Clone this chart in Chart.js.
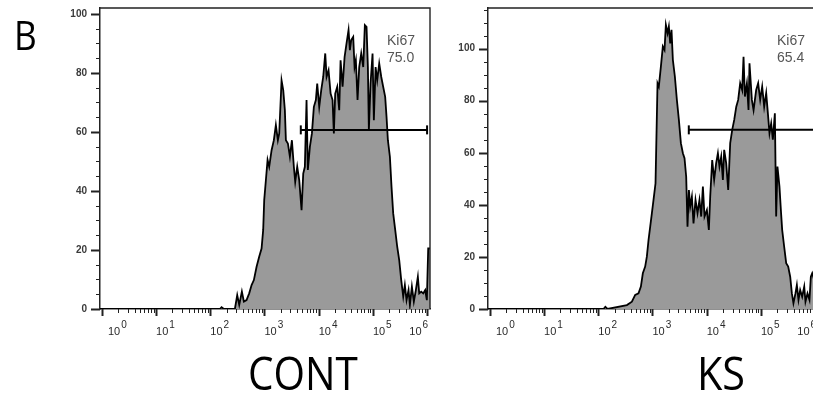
<!DOCTYPE html>
<html><head><meta charset="utf-8">
<script src="https://cdn.jsdelivr.net/npm/chart.js@4.4.0/dist/chart.umd.min.js"></script>
<style>
html,body{margin:0;padding:0;background:#fff;width:813px;height:396px;overflow:hidden;position:relative;}
.c{position:absolute;top:0;}
.big{position:absolute;font-family:'Open Sans',sans-serif;color:#000;white-space:nowrap;line-height:1;transform-origin:0 0;}
.gate{position:absolute;font-family:'Liberation Sans',Arial,sans-serif;font-size:14px;color:#555;line-height:16.7px;white-space:nowrap;}
</style></head><body>
<div class="c" style="left:0;"><canvas id="c1" width="440" height="345"></canvas></div>
<div class="c" style="left:388px;"><canvas id="c2" width="440" height="345"></canvas></div>
<div class="big" style="left:14px;top:15px;font-size:40px;transform:scaleX(0.88);">B</div>
<div class="big" id="t1" style="left:248px;top:349px;font-size:46px;transform:scaleX(0.88);">CONT</div>
<div class="big" id="t2" style="left:697px;top:349px;font-size:46px;transform:scaleX(0.9);">KS</div>
<div class="gate" style="left:387px;top:32px;">Ki67<br>75.0</div>
<div class="gate" style="left:777px;top:32px;">Ki67<br>65.4</div>
<script>
// ---- data (x positions as log10 exponents, y as event counts) ----
const contExp = [-0.035,2.177,2.208,2.25,2.454,2.497,2.534,2.583,2.62,2.669,2.718,2.762,2.804,2.854,2.902,2.946,2.976,2.995,3.026,3.057,3.087,3.131,3.173,3.21,3.247,3.272,3.315,3.346,3.376,3.395,3.432,3.469,3.506,3.542,3.567,3.604,3.641,3.684,3.715,3.745,3.776,3.80,3.838,3.875,3.911,3.948,3.973,4.01,4.047,4.084,4.121,4.146,4.182,4.22,4.256,4.28,4.305,4.342,4.379,4.404,4.441,4.478,4.514,4.551,4.576,4.6,4.637,4.662,4.686,4.717,4.748,4.785,4.822,4.852,4.883,4.908,4.926,4.957,4.994,5.018,5.05,5.08,5.117,5.154,5.19,5.227,5.252,5.277,5.314,5.344,5.375,5.412,5.449,5.486,5.523,5.56,5.59,5.621,5.658,5.683,5.72,5.756,5.793,5.83,5.855,5.892,5.929,5.965,5.996,6.021,6.054];
const contCount = [0,0,0.6,0,0,4.7,1.4,5.9,2.5,3,5.3,8.1,9.8,14.3,17.7,20.5,26.8,36.9,43.7,50.5,48.2,53.8,57.2,62.3,57.2,59.5,77.5,74.2,67.4,57.2,56.1,51.6,57.2,48.2,43.1,48.2,43.7,33.5,45.9,48.2,70.8,47.1,55,59.5,68.5,70.8,76.4,68.5,74.2,78.7,86.6,78.7,80.9,73,70.8,59.5,73,75.3,67.4,84.3,75.3,85.4,90,94.5,87.7,91.1,92.2,82,84.3,70.8,82,86.6,82,96.2,95.6,82,60.6,76.4,86.6,64,82,77.5,83.2,78.7,75.3,71.9,65.1,57.2,51.6,41.4,32.4,26.8,21.1,16.6,9.8,4.2,8.1,3,6.4,1.4,7.6,2.5,6.4,10.9,5.3,5.9,5.3,6.4,3,20.5,20.5];
const ksExp = [-0.035,2.096,2.13,2.17,2.528,2.62,2.681,2.742,2.786,2.822,2.865,2.896,2.927,2.958,2.989,3.019,3.056,3.093,3.117,3.155,3.191,3.222,3.247,3.278,3.302,3.327,3.351,3.376,3.413,3.45,3.487,3.524,3.561,3.591,3.622,3.646,3.672,3.696,3.727,3.757,3.794,3.831,3.867,3.899,3.93,3.96,4.004,4.04,4.065,4.102,4.138,4.175,4.207,4.236,4.268,4.299,4.323,4.36,4.397,4.434,4.471,4.508,4.546,4.581,4.618,4.655,4.68,4.705,4.742,4.772,4.79,4.834,4.865,4.913,4.95,4.987,5.024,5.061,5.098,5.129,5.159,5.19,5.221,5.258,5.282,5.306,5.343,5.369,5.393,5.43,5.467,5.504,5.541,5.572,5.601,5.638,5.664,5.694,5.725,5.762,5.8,5.823,5.86,5.897,5.922,5.947,6.0,6.054];
const ksCount = [0,0,0.8,0,1.5,2.8,5.4,6,8.6,13.7,16.3,20.1,26.5,31.6,36.8,41.9,48.3,86.7,85.4,93.1,100.8,99.5,109.1,105.9,108.5,102,107.2,95.7,89.3,80.3,72.6,63.7,59.8,57.9,50.8,31.6,45.7,39.3,43.1,32.9,41.9,36.8,41.9,35.5,47,35.5,38,30.4,43.1,57.2,49.6,56,59.8,54.7,58.5,49.6,61.1,56,45.7,63.7,68.8,72.6,77.7,80.3,86.7,84.1,96.9,81.6,86.7,76.4,94.4,80.3,76.4,84.1,86.7,80.3,85.4,77.7,82.9,75.2,67.5,71.3,65,75.2,35.5,54.7,47,38,30.4,23.9,17.6,16.3,12.4,6,2.2,6,9.2,3.5,7.3,4.7,8.6,2.8,6,3.5,12.4,13.7,10,15];
// gates: [start exponent, end exponent] and level
const contGateExp = [3.67, 6.0];
const contGateLevel = 60.7;
const ksGateExp = [3.67, 6.0];
const ksGateLevel = 68.8;
// tick labels
const xTickExps = [0, 1, 2, 3, 4, 5, 6];
const contYTicks = [0, 20, 40, 60, 80, 100];
const ksYTicks = [0, 20, 40, 60, 80, 100];
const contYMax = 102;
const ksYMax = 115.6;

const axisDeco = {
  id: 'axisDeco',
  afterDraw(chart) {
    const {ctx, chartArea: a, scales: {x, y}} = chart;
    ctx.save();
    ctx.strokeStyle = '#222';
    ctx.lineWidth = 1.4;
    ctx.beginPath();
    ctx.moveTo(a.left, a.top); ctx.lineTo(a.right, a.top); ctx.lineTo(a.right, a.bottom);
    ctx.stroke();
    // y ticks: minor every 5, major on labelled ticks
    for (let v = 0; v <= y.max + 0.01; v += 5) {
      const py = Math.round(y.getPixelForValue(v)) + 0.5;
      const major = v % 20 === 0;
      ctx.lineWidth = major ? 2 : 1;
      ctx.beginPath();
      ctx.moveTo(a.left, py); ctx.lineTo(a.left - (major ? 9 : 4), py);
      ctx.stroke();
    }
    // x ticks
    xTickExps.forEach(e => {
      for (let m = 1; m <= 9; m++) {
        const v = m * Math.pow(10, e);
        if (v < x.min || v > x.max) continue;
        const px = Math.round(x.getPixelForValue(v)) + 0.5;
        const major = m === 1;
        ctx.lineWidth = major ? 2 : 1;
        ctx.beginPath();
        ctx.moveTo(px, a.bottom); ctx.lineTo(px, a.bottom + (major ? 7 : 4));
        ctx.stroke();
      }
    });
    // x labels 10^n
    ctx.fillStyle = '#2a2a2a';
    ctx.textBaseline = 'alphabetic';
    xTickExps.forEach((e, i) => {
      const px = x.getPixelForValue(Math.pow(10, e));
      ctx.font = '11px "Liberation Sans", Arial, sans-serif';
      const w1 = ctx.measureText('10').width;
      ctx.font = '10px "Liberation Sans", Arial, sans-serif';
      const w2 = ctx.measureText(String(e)).width;
      let left = px;
      if (i === 0) left = px + 6;
      if (i === xTickExps.length - 1) left = px + 1 - (w1 + w2 + 1);
      ctx.font = '11px "Liberation Sans", Arial, sans-serif';
      ctx.fillText('10', left, 335);
      ctx.font = '10px "Liberation Sans", Arial, sans-serif';
      ctx.fillText(String(e), left + w1 + 1, 328);
    });
    ctx.restore();
  }
};

function noPad(s) { s.paddingTop = 0; s.paddingBottom = 0; s.paddingLeft = 0; s.paddingRight = 0; }

function makeChart(id, exps, counts, gateExp, gateLevel, yTicks, yMax) {
  const hist = exps.map((e, i) => ({x: Math.pow(10, e), y: counts[i]}));
  const gate = gateExp.map(e => ({x: Math.pow(10, e), y: gateLevel}));
  return new Chart(document.getElementById(id), {
    type: 'line',
    data: {datasets: [
      {data: gate, borderColor: '#000', borderWidth: 2, fill: false, pointStyle: 'line', rotation: 90,
       pointRadius: 4.5, pointBorderWidth: 2, pointBorderColor: '#000', pointHoverRadius: 0, clip: false},
      {data: hist, borderColor: '#000', borderWidth: 1.8, backgroundColor: '#9a9a9a', fill: 'origin',
       pointRadius: 0, tension: 0, borderJoinStyle: 'miter'}
    ]},
    options: {
      responsive: false, animation: false, events: [],
      layout: {padding: {left: 0, right: 10, top: 8, bottom: 0}},
      plugins: {legend: {display: false}, tooltip: {enabled: false}},
      scales: {
        x: {type: 'logarithmic', min: Math.pow(10, -0.035), max: Math.pow(10, 6.054),
            ticks: {display: false}, grid: {display: false, drawTicks: false},
            border: {display: true, color: '#222', width: 1.5},
            afterBuildTicks: s => { s.ticks = xTickExps.map(e => ({value: Math.pow(10, e)})); },
            afterFit: s => { s.height = 36; noPad(s); }},
        y: {min: 0, max: yMax,
            ticks: {font: {family: '"Liberation Sans", Arial, sans-serif', size: 10, weight: 'bold'}, color: '#3a3a3a', padding: 13},
            grid: {display: false, drawTicks: false},
            border: {display: true, color: '#222', width: 1.5},
            afterBuildTicks: s => { s.ticks = yTicks.map(v => ({value: v})); },
            afterFit: s => { s.width = 100; noPad(s); }}
      }
    },
    plugins: [axisDeco]
  });
}
makeChart('c1', contExp, contCount, contGateExp, contGateLevel, contYTicks, contYMax);
makeChart('c2', ksExp, ksCount, ksGateExp, ksGateLevel, ksYTicks, ksYMax);
</script>
</body></html>
